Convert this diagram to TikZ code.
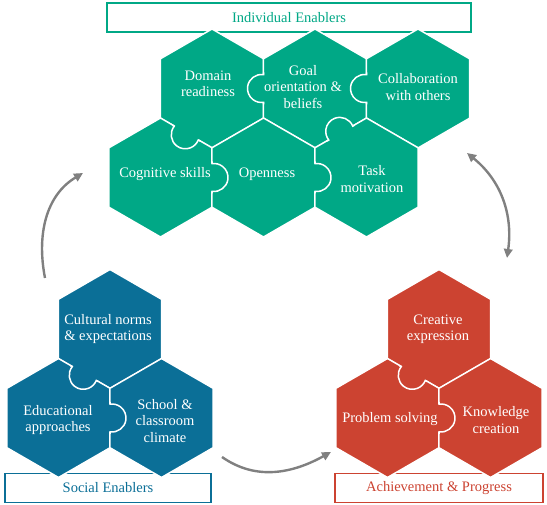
\documentclass[tikz,border=0pt]{standalone}
\usepackage{fontspec}
\setmainfont{Liberation Serif}
\usetikzlibrary{arrows.meta}
\definecolor{tealgreen}{HTML}{00A886}
\definecolor{oceanblue}{HTML}{0B6F97}
\definecolor{brickred}{HTML}{CC4331}
\definecolor{arrowgray}{HTML}{808080}

% pointy-top hexagon: centre x, centre y, colour
\newcommand{\hexcell}[3]{%
  \filldraw[fill=#3, draw=white, line width=1.5pt] (#1,#2) +(0,-59.5) -- +(51.53,-29.75) -- +(51.53,29.75)
    -- +(0,59.5) -- +(-51.53,29.75) -- +(-51.53,-29.75) -- cycle;}

% puzzle knob on a shared edge: mid x, mid y, edge angle, colour
\newcommand{\knob}[4]{%
  \begin{scope}[shift={(#1,#2)}, rotate=#3]
    \fill[#4] (0,2) circle[radius=14];
    \draw[white, line width=1.5pt] (-16,0) -- (-13.86,0) arc[start angle=188.2, end angle=-8.2, radius=14] -- (16,0);
  \end{scope}}

\begin{document}
\begin{tikzpicture}[
  x=1pt, y=1pt, yscale=-1,
  every node/.style={font=\fontsize{14.5}{16.3}\selectfont, align=center},
  txt/.style={text=white},
  heading/.style={draw=#1, text=#1, fill=white, line width=1.3pt, minimum height=29pt, inner sep=0pt},
  >={Triangle[length=9pt, width=8.5pt]},
  arr/.style={draw=arrowgray, line width=2.4pt}
]
\useasboundingbox (0,0) rectangle (547,505);

% headings
\node[heading=tealgreen, minimum width=364pt] (indhead) at (289,17.5) {Individual Enablers};
\node[heading=oceanblue, minimum width=206pt] (sochead) at (108,488) {Social Enablers};
\node[heading=brickred, minimum width=208pt] (achhead) at (439,488) {Achievement \& Progress};

% individual enablers
\hexcell{212}{88.5}{tealgreen}
\hexcell{315}{88.5}{tealgreen}
\hexcell{418}{88.5}{tealgreen}
\hexcell{160.5}{177.5}{tealgreen}
\hexcell{263.5}{177.5}{tealgreen}
\hexcell{366.5}{177.5}{tealgreen}
\knob{263.5}{88.5}{90}{tealgreen}
\knob{366.5}{88.5}{90}{tealgreen}
\knob{186.25}{133.1}{30}{tealgreen}
\knob{340.75}{133.1}{150}{tealgreen}
\knob{212}{177.5}{-90}{tealgreen}
\knob{315}{177.5}{-90}{tealgreen}

% social enablers
\hexcell{110}{329}{oceanblue}
\hexcell{58.5}{418}{oceanblue}
\hexcell{161.5}{418}{oceanblue}
\knob{84.25}{373.6}{30}{oceanblue}
\knob{110}{418}{-90}{oceanblue}

% achievement
\hexcell{439}{329}{brickred}
\hexcell{387.5}{418}{brickred}
\hexcell{490.5}{418}{brickred}
\knob{413.25}{373.6}{30}{brickred}
\knob{439}{418}{-90}{brickred}

% labels
\node[txt] (domain) at (208,84) {Domain\\readiness};
\node[txt] (goal) at (303,87) {Goal\\orientation \&\\beliefs};
\node[txt] (collab) at (418,87) {Collaboration\\with others};
\node[txt] (cognitive) at (165,174) {Cognitive skills};
\node[txt] (openness) at (267,174) {Openness};
\node[txt] (task) at (372,179) {Task\\motivation};
\node[txt] (cultural) at (108,329) {Cultural norms\\\& expectations};
\node[txt] (educational) at (58,420) {Educational\\approaches};
\node[txt] (school) at (165,421) {School \&\\classroom\\climate};
\node[txt] (creative) at (438,329) {Creative\\expression};
\node[txt] (problem) at (390,419) {Problem solving};
\node[txt] (knowledge) at (496,420) {Knowledge\\creation};

% cycle arrows
\coordinate (socup) at (45,278);
\coordinate (indleft) at (83,173);
\coordinate (indright) at (467,153);
\coordinate (achup) at (507,258);
\coordinate (socright) at (222,457);
\coordinate (achleft) at (331,452);
\draw[arr, ->] (socup) to[out=259, in=149] (indleft);
\draw[arr, <->] (indright) to[out=39, in=278] (achup);
\draw[arr, ->] (socright) to[out=35, in=151] (achleft);
\end{tikzpicture}
\end{document}
